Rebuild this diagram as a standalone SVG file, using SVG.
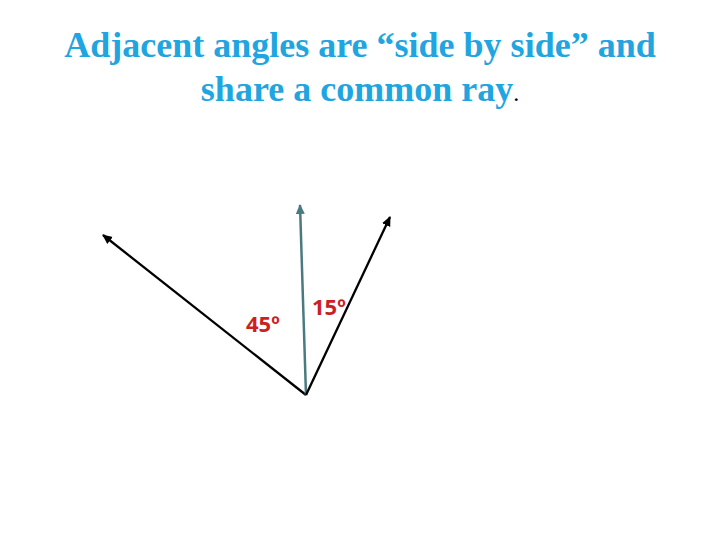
<svg xmlns="http://www.w3.org/2000/svg" width="720" height="540" viewBox="0 0 720 540">
<defs>
<style>
.title{font-family:"Liberation Serif","Times New Roman",serif;font-weight:bold;font-size:36px;fill:#1fa5e0;text-anchor:middle}
.lbl{font-family:"Open Sans","Liberation Sans",sans-serif;font-weight:bold;font-size:22px;fill:#cc1f24}
.ray{stroke:#000;stroke-width:2.3;fill:none}
.ray2{stroke:#4a7a80;stroke-width:2.5;fill:none}
</style>
<marker id="ah" markerWidth="12" markerHeight="12" refX="9" refY="5.5" orient="auto" markerUnits="userSpaceOnUse">
<path d="M0,1 L10,5.5 L0,10 Z" fill="#000"/>
</marker>
<marker id="ah2" markerWidth="12" markerHeight="12" refX="9" refY="5.5" orient="auto" markerUnits="userSpaceOnUse">
<path d="M0,1 L10,5.5 L0,10 Z" fill="#4a7a80"/>
</marker>
</defs>
<rect width="720" height="540" fill="#fff"/>
<g id="title">
<text class="title" x="360" y="57">Adjacent angles are “side by side” and</text>
<text class="title" x="360" y="101">share a common ray<tspan fill="#000" font-weight="normal" font-size="24">.</tspan></text>
</g>
<g id="connectors">
<line id="ray-left" class="ray" x1="306" y1="395" x2="103" y2="235" marker-end="url(#ah)"/>
<line id="ray-common" class="ray2" x1="306" y1="395" x2="300" y2="205" marker-end="url(#ah2)"/>
<line id="ray-right" class="ray" x1="306" y1="395" x2="390" y2="217" marker-end="url(#ah)"/>
</g>
<g id="label45"><text class="lbl" x="246" y="332">45º</text></g>
<g id="label15"><text class="lbl" x="312" y="315">15º</text></g>
</svg>
